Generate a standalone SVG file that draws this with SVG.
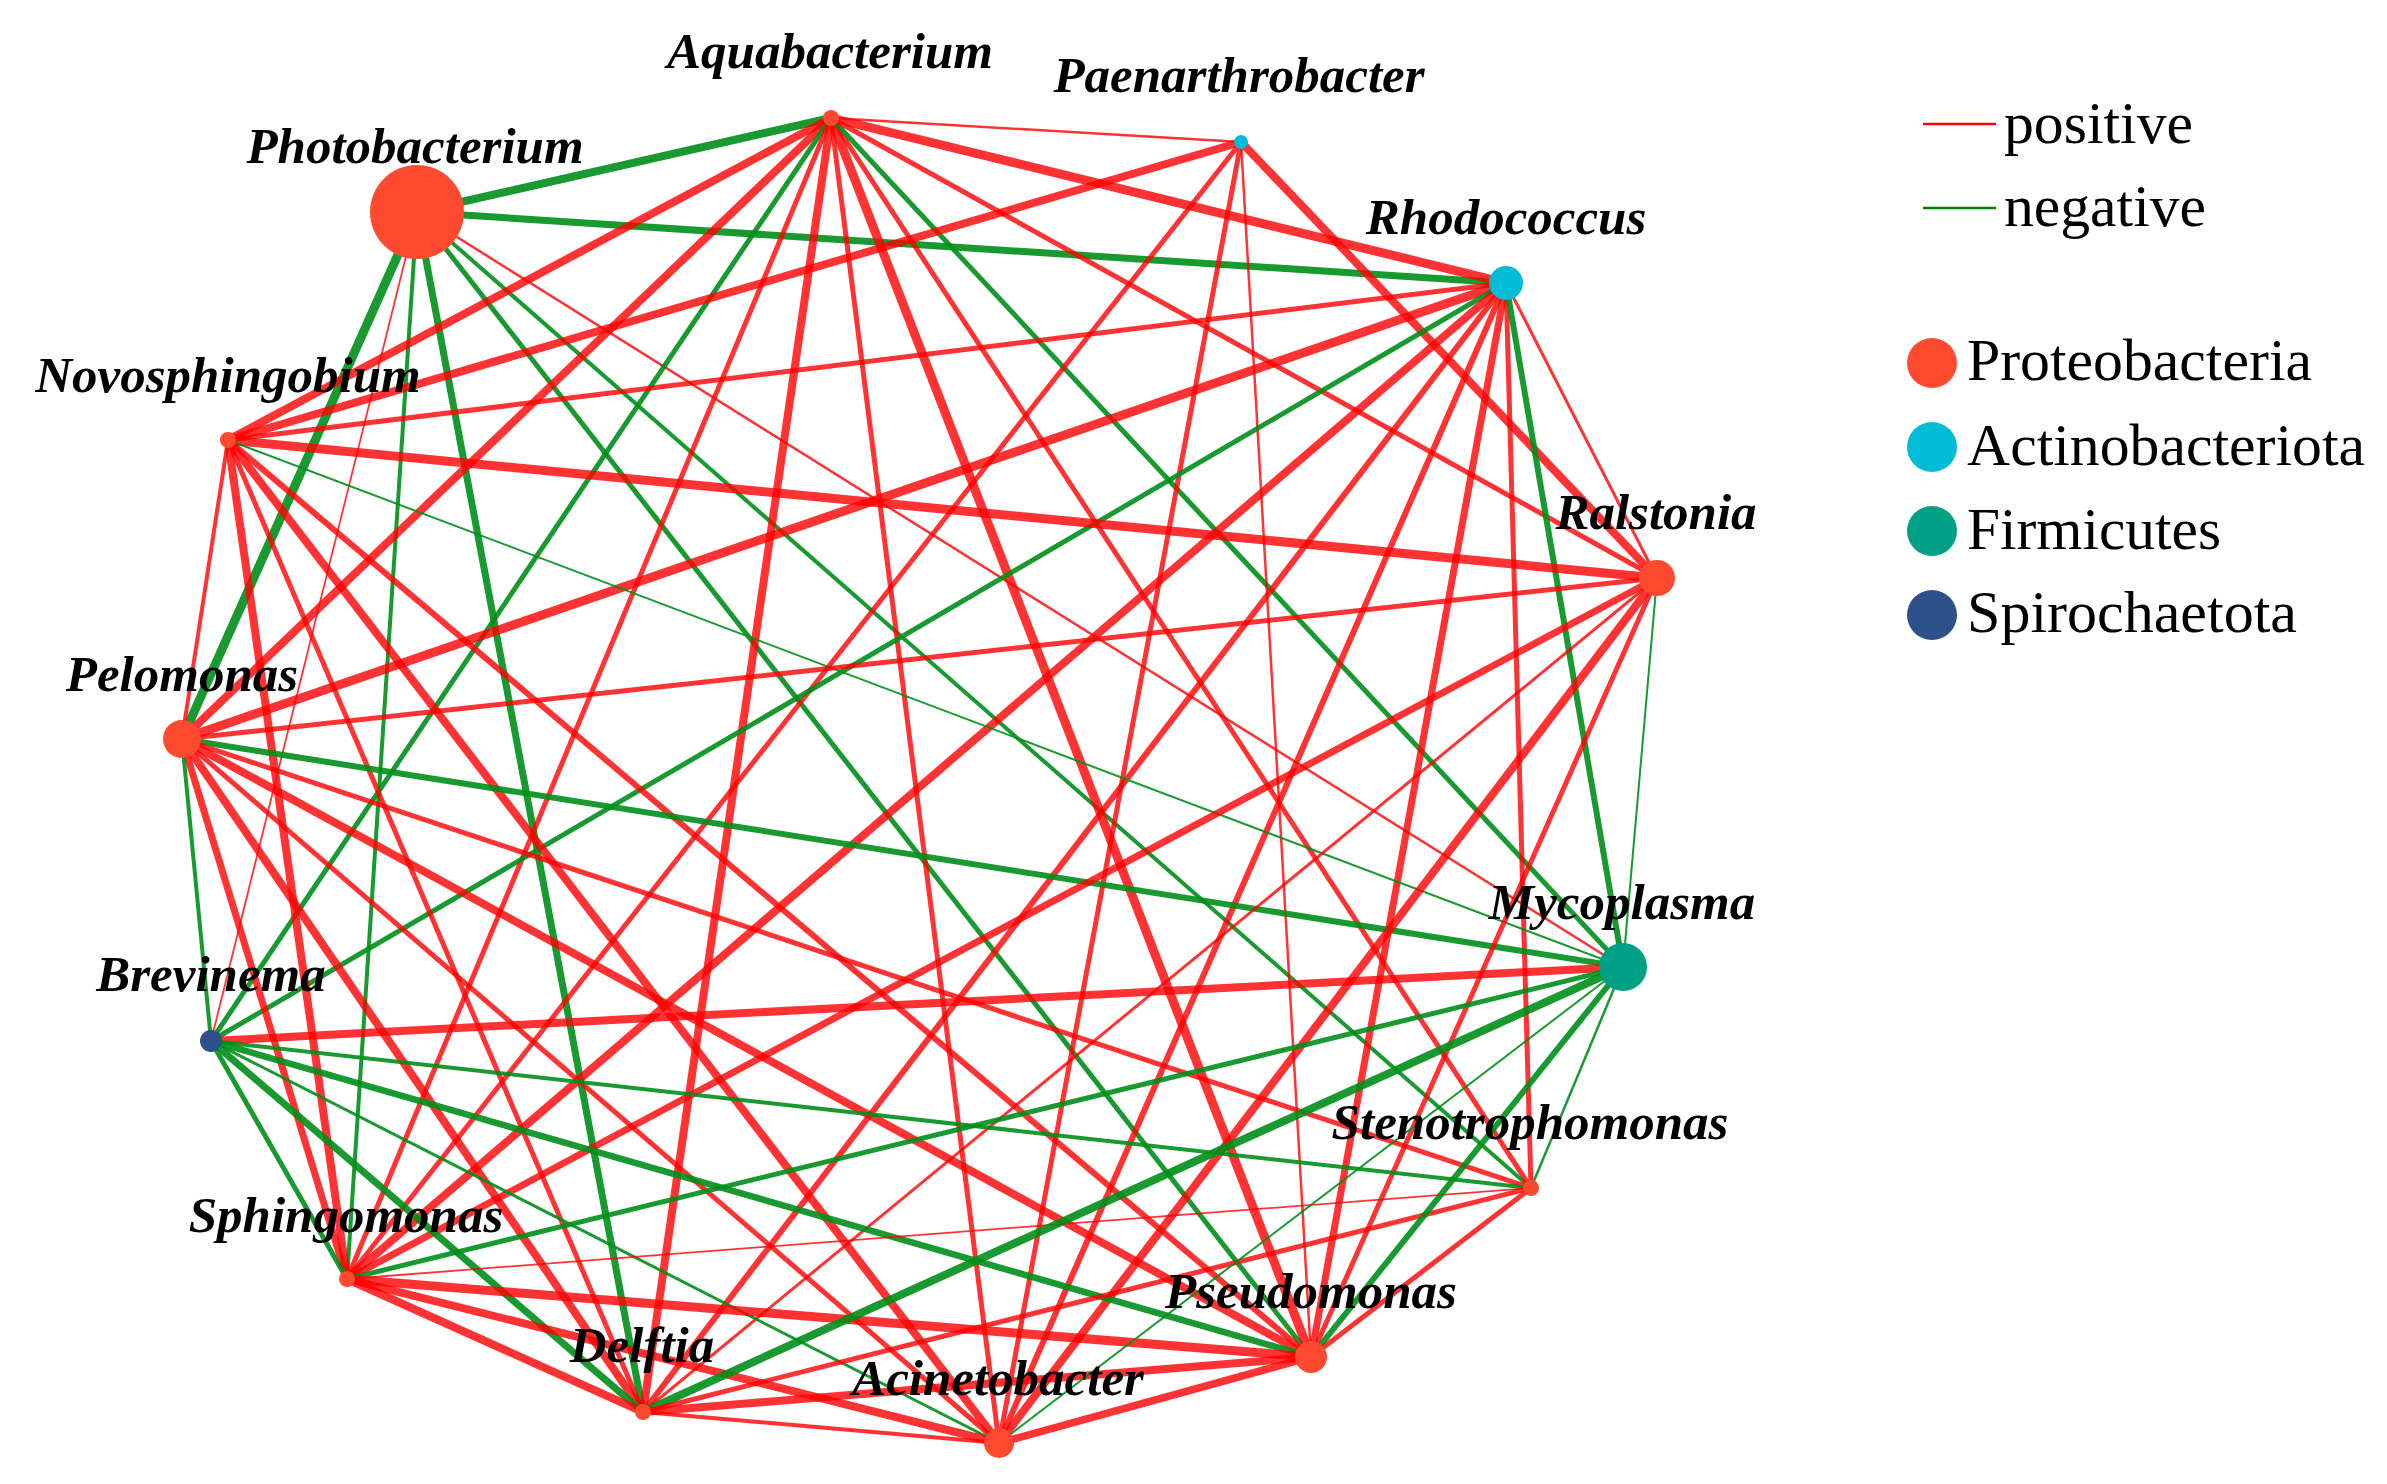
<svg xmlns="http://www.w3.org/2000/svg" width="2387" height="1484" viewBox="0 0 2387 1484">
<style>
.p{stroke:#ff0000;stroke-opacity:0.8;fill:none}
.n{stroke:#008f1a;stroke-opacity:0.9;fill:none}
.lbl{font-family:"Liberation Serif","Times New Roman",serif;font-weight:bold;font-style:italic;font-size:51px;fill:#000;text-anchor:middle}
.leg{font-family:"Liberation Serif","Times New Roman",serif;font-size:60px;fill:#000}
.prot{fill:#ff4a2f}
.act{fill:#00bcd6}
.firm{fill:#00a087}
.spir{fill:#2c5089}
</style>
<rect width="2387" height="1484" fill="#fff"/>
<g id="edges">
<line class="n" stroke-width="8" x1="417" y1="212" x2="831" y2="118"/>
<line class="n" stroke-width="7" x1="417" y1="212" x2="1506" y2="283"/>
<line class="p" stroke-width="2.5" x1="417" y1="212" x2="1623" y2="967"/>
<line class="n" stroke-width="4" x1="417" y1="212" x2="1531" y2="1188"/>
<line class="n" stroke-width="5" x1="417" y1="212" x2="1311" y2="1357"/>
<line class="n" stroke-width="7" x1="417" y1="212" x2="643" y2="1412"/>
<line class="n" stroke-width="4" x1="417" y1="212" x2="347" y2="1279"/>
<line class="p" stroke-width="1.8" x1="417" y1="212" x2="211" y2="1041"/>
<line class="n" stroke-width="9" x1="417" y1="212" x2="182" y2="739"/>
<line class="p" stroke-width="2.5" x1="831" y1="118" x2="1241" y2="142"/>
<line class="p" stroke-width="9" x1="831" y1="118" x2="1506" y2="283"/>
<line class="p" stroke-width="8" x1="831" y1="118" x2="228" y2="440"/>
<line class="p" stroke-width="8" x1="831" y1="118" x2="182" y2="739"/>
<line class="n" stroke-width="5" x1="831" y1="118" x2="211" y2="1041"/>
<line class="p" stroke-width="5" x1="831" y1="118" x2="347" y2="1279"/>
<line class="p" stroke-width="8" x1="831" y1="118" x2="643" y2="1412"/>
<line class="p" stroke-width="5" x1="831" y1="118" x2="999" y2="1443"/>
<line class="p" stroke-width="9" x1="831" y1="118" x2="1311" y2="1357"/>
<line class="p" stroke-width="5" x1="831" y1="118" x2="1531" y2="1188"/>
<line class="n" stroke-width="5" x1="831" y1="118" x2="1623" y2="967"/>
<line class="p" stroke-width="5" x1="831" y1="118" x2="1657" y2="578"/>
<line class="p" stroke-width="8" x1="1241" y1="142" x2="228" y2="440"/>
<line class="p" stroke-width="5" x1="1241" y1="142" x2="347" y2="1279"/>
<line class="p" stroke-width="5" x1="1241" y1="142" x2="999" y2="1443"/>
<line class="p" stroke-width="2.5" x1="1241" y1="142" x2="1311" y2="1357"/>
<line class="p" stroke-width="8" x1="1241" y1="142" x2="1657" y2="578"/>
<line class="p" stroke-width="5" x1="1506" y1="283" x2="228" y2="440"/>
<line class="p" stroke-width="9" x1="1506" y1="283" x2="182" y2="739"/>
<line class="n" stroke-width="5" x1="1506" y1="283" x2="211" y2="1041"/>
<line class="p" stroke-width="8" x1="1506" y1="283" x2="347" y2="1279"/>
<line class="p" stroke-width="6" x1="1506" y1="283" x2="643" y2="1412"/>
<line class="p" stroke-width="6" x1="1506" y1="283" x2="999" y2="1443"/>
<line class="p" stroke-width="7" x1="1506" y1="283" x2="1311" y2="1357"/>
<line class="p" stroke-width="5" x1="1506" y1="283" x2="1531" y2="1188"/>
<line class="n" stroke-width="6" x1="1506" y1="283" x2="1623" y2="967"/>
<line class="p" stroke-width="3" x1="1506" y1="283" x2="1657" y2="578"/>
<line class="p" stroke-width="9" x1="228" y1="440" x2="1657" y2="578"/>
<line class="n" stroke-width="2" x1="228" y1="440" x2="1623" y2="967"/>
<line class="p" stroke-width="6" x1="228" y1="440" x2="1311" y2="1357"/>
<line class="p" stroke-width="8" x1="228" y1="440" x2="999" y2="1443"/>
<line class="p" stroke-width="5" x1="228" y1="440" x2="643" y2="1412"/>
<line class="p" stroke-width="8" x1="228" y1="440" x2="347" y2="1279"/>
<line class="p" stroke-width="4" x1="228" y1="440" x2="182" y2="739"/>
<line class="p" stroke-width="5" x1="182" y1="739" x2="1657" y2="578"/>
<line class="n" stroke-width="6" x1="182" y1="739" x2="1623" y2="967"/>
<line class="p" stroke-width="5" x1="182" y1="739" x2="1531" y2="1188"/>
<line class="p" stroke-width="8" x1="182" y1="739" x2="1311" y2="1357"/>
<line class="p" stroke-width="5" x1="182" y1="739" x2="999" y2="1443"/>
<line class="p" stroke-width="8" x1="182" y1="739" x2="643" y2="1412"/>
<line class="p" stroke-width="7" x1="182" y1="739" x2="347" y2="1279"/>
<line class="n" stroke-width="4" x1="182" y1="739" x2="211" y2="1041"/>
<line class="p" stroke-width="7" x1="1657" y1="578" x2="347" y2="1279"/>
<line class="p" stroke-width="3" x1="1657" y1="578" x2="643" y2="1412"/>
<line class="p" stroke-width="8" x1="1657" y1="578" x2="999" y2="1443"/>
<line class="p" stroke-width="5" x1="1657" y1="578" x2="1311" y2="1357"/>
<line class="n" stroke-width="2" x1="1657" y1="578" x2="1623" y2="967"/>
<line class="p" stroke-width="8" x1="211" y1="1041" x2="1623" y2="967"/>
<line class="n" stroke-width="4" x1="211" y1="1041" x2="1531" y2="1188"/>
<line class="n" stroke-width="6.5" x1="211" y1="1041" x2="1311" y2="1357"/>
<line class="n" stroke-width="3" x1="211" y1="1041" x2="999" y2="1443"/>
<line class="n" stroke-width="7" x1="211" y1="1041" x2="643" y2="1412"/>
<line class="n" stroke-width="5" x1="211" y1="1041" x2="347" y2="1279"/>
<line class="n" stroke-width="5" x1="347" y1="1279" x2="1623" y2="967"/>
<line class="p" stroke-width="1.8" x1="347" y1="1279" x2="1531" y2="1188"/>
<line class="p" stroke-width="9" x1="347" y1="1279" x2="1311" y2="1357"/>
<line class="p" stroke-width="8" x1="347" y1="1279" x2="999" y2="1443"/>
<line class="p" stroke-width="8" x1="347" y1="1279" x2="643" y2="1412"/>
<line class="n" stroke-width="8" x1="643" y1="1412" x2="1623" y2="967"/>
<line class="p" stroke-width="5" x1="643" y1="1412" x2="1531" y2="1188"/>
<line class="p" stroke-width="8" x1="643" y1="1412" x2="1311" y2="1357"/>
<line class="p" stroke-width="4" x1="643" y1="1412" x2="999" y2="1443"/>
<line class="n" stroke-width="2" x1="999" y1="1443" x2="1623" y2="967"/>
<line class="p" stroke-width="7.5" x1="999" y1="1443" x2="1311" y2="1357"/>
<line class="n" stroke-width="6" x1="1311" y1="1357" x2="1623" y2="967"/>
<line class="p" stroke-width="5" x1="1311" y1="1357" x2="1531" y2="1188"/>
<line class="n" stroke-width="2.5" x1="1531" y1="1188" x2="1623" y2="967"/>
</g>
<g id="node-photobacterium"><circle class="prot" cx="417" cy="212" r="47"/><text class="lbl" x="415" y="163">Photobacterium</text></g>
<g id="node-aquabacterium"><circle class="prot" cx="831" cy="118" r="8"/><text class="lbl" x="830" y="68">Aquabacterium</text></g>
<g id="node-paenarthrobacter"><circle class="act" cx="1241" cy="142" r="7"/><text class="lbl" x="1239" y="92">Paenarthrobacter</text></g>
<g id="node-rhodococcus"><circle class="act" cx="1506" cy="283" r="17"/><text class="lbl" x="1506" y="234">Rhodococcus</text></g>
<g id="node-novosphingobium"><circle class="prot" cx="228" cy="440" r="8"/><text class="lbl" x="228" y="392">Novosphingobium</text></g>
<g id="node-ralstonia"><circle class="prot" cx="1657" cy="578" r="18"/><text class="lbl" x="1656" y="529">Ralstonia</text></g>
<g id="node-pelomonas"><circle class="prot" cx="182" cy="739" r="19"/><text class="lbl" x="182" y="691">Pelomonas</text></g>
<g id="node-mycoplasma"><circle class="firm" cx="1623" cy="967" r="24"/><text class="lbl" x="1622" y="919">Mycoplasma</text></g>
<g id="node-brevinema"><circle class="spir" cx="211" cy="1041" r="11"/><text class="lbl" x="211" y="991">Brevinema</text></g>
<g id="node-stenotrophomonas"><circle class="prot" cx="1531" cy="1188" r="8"/><text class="lbl" x="1530" y="1139">Stenotrophomonas</text></g>
<g id="node-sphingomonas"><circle class="prot" cx="347" cy="1279" r="8"/><text class="lbl" x="346" y="1232">Sphingomonas</text></g>
<g id="node-pseudomonas"><circle class="prot" cx="1311" cy="1357" r="16"/><text class="lbl" x="1311" y="1308">Pseudomonas</text></g>
<g id="node-delftia"><circle class="prot" cx="643" cy="1412" r="8"/><text class="lbl" x="642" y="1362">Delftia</text></g>
<g id="node-acinetobacter"><circle class="prot" cx="999" cy="1443" r="15"/><text class="lbl" x="998" y="1395">Acinetobacter</text></g>
<g id="legend">
<line x1="1923" y1="124" x2="1996" y2="124" stroke="#ff0000" stroke-width="2.5"/>
<text class="leg" x="2004" y="143" textLength="189" lengthAdjust="spacingAndGlyphs">positive</text>
<line x1="1923" y1="208" x2="1996" y2="208" stroke="#008000" stroke-width="2.5"/>
<text class="leg" x="2004" y="226" textLength="202" lengthAdjust="spacingAndGlyphs">negative</text>
<circle class="prot" cx="1932" cy="363" r="25"/>
<text class="leg" x="1967" y="380" textLength="345" lengthAdjust="spacingAndGlyphs">Proteobacteria</text>
<circle class="act" cx="1932" cy="447" r="25"/>
<text class="leg" x="1967" y="465" textLength="398" lengthAdjust="spacingAndGlyphs">Actinobacteriota</text>
<circle class="firm" cx="1932" cy="531" r="25"/>
<text class="leg" x="1967" y="549" textLength="254" lengthAdjust="spacingAndGlyphs">Firmicutes</text>
<circle class="spir" cx="1932" cy="615" r="25"/>
<text class="leg" x="1967" y="632" textLength="330" lengthAdjust="spacingAndGlyphs">Spirochaetota</text>
</g>
</svg>
